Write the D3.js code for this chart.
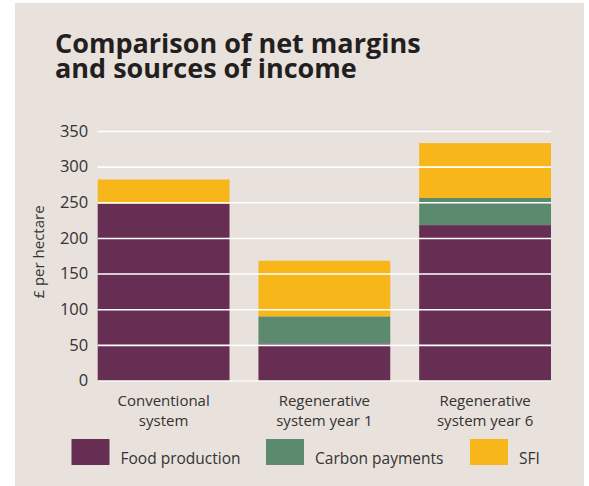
<!DOCTYPE html>
<html><head><meta charset="utf-8">
<script src="https://cdn.jsdelivr.net/npm/d3@7"></script>
<style>body{margin:0;background:#fff}svg{display:block}</style>
</head><body>
<svg id="c" width="589" height="486"></svg>
<script>
const categories = [["Conventional","system"],["Regenerative","system year 1"],["Regenerative","system year 6"]];
const categoryKeys = ["Conventional system","Regenerative system year 1","Regenerative system year 6"];
const seriesNames = ["Food production","Carbon payments","SFI"];
const foodProduction = [248, 52, 218];
const carbonPayments = [0, 38, 38];
const sfi = [34, 78, 77];
const yTicks = [0,50,100,150,200,250,300,350];
const colors = ["#662e53","#5c8a6e","#f7b619"];
const titleLines = ["Comparison of net margins","and sources of income"];

const rows = categoryKeys.map((k,i)=>({key:k,"Food production":foodProduction[i],"Carbon payments":carbonPayments[i],"SFI":sfi[i]}));
const stacked = d3.stack().keys(seriesNames)(rows);

const svg = d3.select("#c");
const font = "'Open Sans', Lato, sans-serif";
svg.append("rect").attr("x",15).attr("y",3).attr("width",569).attr("height",490).attr("fill","#e8e1dc");

const x = d3.scaleBand().domain(categoryKeys).range([97.7,551]).paddingInner(0.18).paddingOuter(0);
const y = d3.scaleLinear().domain([0,350]).range([380.5,131]);

// title
const t1 = svg.append("text").attr("x",55).attr("y",53).attr("font-family",font).attr("font-weight",700).attr("font-size",24).attr("fill","#231f20").text(titleLines[0]);
const w = t1.node().getComputedTextLength();
const fs = Math.min(27, 24*367/w);
t1.attr("font-size",fs);
svg.append("text").attr("x",55).attr("y",78).attr("font-family",font).attr("font-weight",700).attr("font-size",fs).attr("fill","#231f20").text(titleLines[1]);

// bars
svg.append("g").selectAll("g").data(stacked).join("g").attr("fill",(d,i)=>colors[i])
  .selectAll("rect").data(d=>d).join("rect")
  .attr("x",d=>x(d.data.key)).attr("width",x.bandwidth())
  .attr("y",d=>y(d[1])).attr("height",d=>y(d[0])-y(d[1]));

// gridlines on top
const yAxis = d3.axisLeft(y).tickValues(yTicks).tickSize(-(551-97.7)).tickPadding(10);
const ga = svg.append("g").attr("transform","translate(97.7,0)").call(yAxis);
ga.select(".domain").remove();
ga.selectAll(".tick line").attr("stroke","#fff").attr("stroke-width",1.6).attr("opacity",d=>d===0?0.75:1);
ga.selectAll(".tick text").attr("font-family",font).attr("font-size",16.5).attr("fill","#333").attr("x",-9.5);

// y label
svg.append("text").attr("transform","translate(44,252) rotate(-90)").attr("text-anchor","middle")
  .attr("font-family",font).attr("font-size",15).attr("fill","#333").text("£ per hectare");

// x labels
const xa = d3.axisBottom(x).tickSize(0).tickFormat("");
const gx = svg.append("g").attr("transform","translate(0,380.5)").call(xa);
gx.select(".domain").remove();
gx.selectAll(".tick").each(function(d,i){
  const t = d3.select(this).append("text").attr("text-anchor","middle").attr("font-family",font).attr("font-size",15).attr("fill","#333");
  categories[i].forEach((line,j)=>t.append("tspan").attr("x",0).attr("y",25+j*20.5).text(line));
});

// legend
const legX = [71.5,266,470];
const lg = svg.append("g").selectAll("g").data(seriesNames).join("g").attr("transform",(d,i)=>`translate(${legX[i]},439)`);
lg.append("rect").attr("width",38).attr("height",26).attr("fill",(d,i)=>colors[i]);
lg.append("text").attr("x",49).attr("y",25).attr("font-family",font).attr("font-size",15.5).attr("fill","#333").text(d=>d);
</script>
</body></html>
